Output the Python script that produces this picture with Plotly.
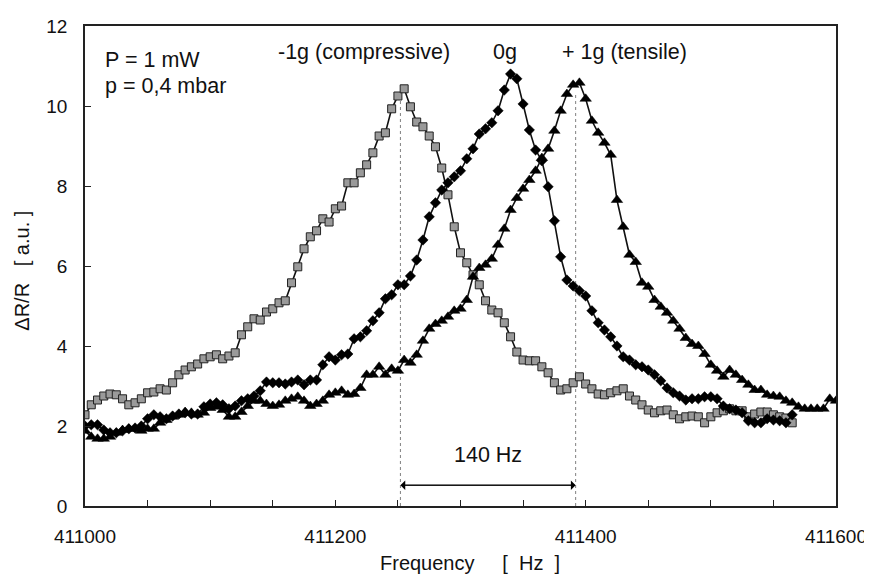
import plotly.graph_objects as go

# ---------------- data ----------------
freq = [411000, 411005, 411010, 411015, 411020, 411025, 411030, 411035, 411040, 411045,
        411050, 411055, 411060, 411065, 411070, 411075, 411080, 411085, 411090, 411095,
        411100, 411105, 411110, 411115, 411120, 411125, 411130, 411135, 411140, 411145,
        411150, 411155, 411160, 411165, 411170, 411175, 411180, 411185, 411190, 411195,
        411200, 411205, 411210, 411215, 411220, 411225, 411230, 411235, 411240, 411245,
        411250, 411255, 411260, 411265, 411270, 411275, 411280, 411285, 411290, 411295,
        411300, 411305, 411310, 411315, 411320, 411325, 411330, 411335, 411340, 411345,
        411350, 411355, 411360, 411365, 411370, 411375, 411380, 411385, 411390, 411395,
        411400, 411405, 411410, 411415, 411420, 411425, 411430, 411435, 411440, 411445,
        411450, 411455, 411460, 411465, 411470, 411475, 411480, 411485, 411490, 411495,
        411500, 411505, 411510, 411515, 411520, 411525, 411530, 411535, 411540, 411545,
        411550, 411555, 411560, 411565, 411570, 411575, 411580, 411585, 411590, 411595,
        411600]

compressive = [2.28, 2.53, 2.65, 2.75, 2.80, 2.78, 2.68, 2.53, 2.58, 2.68,
               2.83, 2.85, 2.93, 2.90, 3.08, 3.28, 3.40, 3.48, 3.55, 3.68,
               3.73, 3.78, 3.68, 3.75, 3.83, 4.28, 4.48, 4.68, 4.65, 4.85,
               4.93, 5.08, 5.13, 5.58, 5.98, 6.43, 6.73, 6.88, 7.18, 7.10,
               7.43, 7.50, 8.08, 8.08, 8.33, 8.53, 8.83, 9.25, 9.33, 9.93,
               10.25, 10.43, 9.98, 9.60, 9.48, 9.25, 8.98, 8.45, 7.78, 6.98,
               6.33, 6.08, 5.78, 5.53, 5.13, 4.90, 4.83, 4.58, 4.23, 3.85,
               3.65, 3.63, 3.63, 3.48, 3.33, 3.08, 2.90, 2.93, 3.08, 3.23,
               3.05, 2.93, 2.80, 2.78, 2.83, 2.88, 2.93, 2.75, 2.65, 2.53,
               2.40, 2.33, 2.38, 2.40, 2.28, 2.18, 2.23, 2.25, 2.23, 2.08,
               2.23, 2.33, 2.38, 2.43, 2.38, 2.38, 2.23, 2.30, 2.35, 2.35,
               2.28, 2.23, 2.20, 2.08]

zero_g = [2.00, 2.03, 2.03, 1.90, 1.83, 1.83, 1.88, 1.93, 1.95, 2.00,
          2.18, 2.28, 2.23, 2.18, 2.25, 2.30, 2.33, 2.30, 2.30, 2.48,
          2.55, 2.58, 2.53, 2.43, 2.50, 2.63, 2.68, 2.75, 2.88, 3.10,
          3.08, 3.08, 3.05, 3.10, 3.15, 3.03, 3.15, 3.15, 3.53, 3.73,
          3.65, 3.78, 3.80, 4.18, 4.23, 4.38, 4.63, 4.83, 5.18, 5.28,
          5.53, 5.53, 5.75, 6.15, 6.65, 7.23, 7.58, 7.90, 8.08, 8.23,
          8.38, 8.68, 8.93, 9.30, 9.43, 9.58, 9.88, 10.40, 10.80, 10.68,
          10.05, 9.40, 8.90, 8.63, 7.98, 7.13, 6.23, 5.65, 5.50, 5.38,
          5.25, 4.88, 4.58, 4.40, 4.23, 4.00, 3.73, 3.65, 3.53, 3.48,
          3.40, 3.28, 3.13, 2.95, 2.83, 2.75, 2.65, 2.68, 2.68, 2.73,
          2.73, 2.68, 2.50, 2.43, 2.40, 2.33, 2.13, 2.08, 2.08, 2.18,
          2.15, 2.13, 2.08, 2.28]

tensile = [1.88, 1.73, 1.68, 1.68, 1.73, 1.83, 1.90, 1.93, 1.93, 1.88,
           1.93, 1.93, 2.08, 2.15, 2.23, 2.28, 2.35, 2.33, 2.28, 2.33,
           2.45, 2.48, 2.40, 2.23, 2.23, 2.35, 2.50, 2.63, 2.63, 2.55,
           2.50, 2.53, 2.63, 2.68, 2.73, 2.63, 2.50, 2.55, 2.63, 2.78,
           2.83, 2.88, 2.78, 2.80, 2.95, 3.28, 3.28, 3.48, 3.28, 3.43,
           3.38, 3.65, 3.58, 3.78, 4.13, 4.43, 4.55, 4.63, 4.73, 4.88,
           4.93, 5.15, 5.73, 5.95, 6.03, 6.18, 6.53, 6.93, 7.40, 7.70,
           7.93, 8.15, 8.38, 8.70, 8.93, 9.38, 9.88, 10.30, 10.53, 10.58,
           10.18, 9.63, 9.33, 9.08, 8.78, 7.65, 6.98, 6.28, 6.10, 5.58,
           5.48, 5.15, 4.98, 4.83, 4.63, 4.43, 4.20, 4.05, 4.00, 3.80,
           3.53, 3.38, 3.23, 3.40, 3.28, 3.15, 3.03, 2.90, 2.90, 2.78,
           2.75, 2.73, 2.63, 2.58, 2.48, 2.43, 2.43, 2.43, 2.43, 2.68,
           2.63]

# resonance markers (dotted vertical lines) and the 140 Hz shift
peak_freqs = [411252, 411392]
peak_tops = [10.2, 10.35]
shift_label = "140 Hz"
shift_y = 0.52

x_ticks = [411000, 411200, 411400, 411600]
y_ticks = [0, 2, 4, 6, 8, 10, 12]

FONT = "Liberation Sans, Arial, sans-serif"
FS_TEXT = 21.5
FS_TICK = 19
FS_TITLE = 20
INK = "#111111"
NB = "\u00a0"

fig = go.Figure()

# dotted vertical lines
for f, top in zip(peak_freqs, peak_tops):
    fig.add_trace(go.Scatter(x=[f, f], y=[0, top], mode="lines",
                             line=dict(color="#808080", width=1, dash="dot"),
                             hoverinfo="skip", showlegend=False))

fig.add_trace(go.Scatter(
    x=freq[:len(compressive)], y=compressive, mode="lines+markers",
    name="-1g (compressive)",
    line=dict(color=INK, width=1.6),
    marker=dict(symbol="square", size=8, color="#9a9a9a",
                line=dict(color="#222222", width=1)),
    showlegend=False))

fig.add_trace(go.Scatter(
    x=freq[:len(zero_g)], y=zero_g, mode="lines+markers",
    name="0g",
    line=dict(color=INK, width=1.6),
    marker=dict(symbol="diamond", size=8, color="#000000",
                line=dict(color="#000000", width=0.5)),
    showlegend=False))

fig.add_trace(go.Scatter(
    x=freq[:len(tensile)], y=tensile, mode="lines+markers",
    name="+ 1g (tensile)",
    line=dict(color=INK, width=1.6),
    marker=dict(symbol="triangle-up", size=10, color="#000000",
                line=dict(color="#000000", width=0.5)),
    showlegend=False))

txt = dict(size=FS_TEXT, color=INK, family=FONT)
annotations = [
    dict(x=peak_freqs[1], y=shift_y, ax=peak_freqs[0], ay=shift_y,
         xref="x", yref="y", axref="x", ayref="y", text="",
         showarrow=True, arrowhead=1, arrowsize=1.6, arrowwidth=1, arrowcolor="#000000"),
    dict(x=peak_freqs[0], y=shift_y, ax=peak_freqs[1], ay=shift_y,
         xref="x", yref="y", axref="x", ayref="y", text="",
         showarrow=True, arrowhead=1, arrowsize=1.6, arrowwidth=1, arrowcolor="#000000"),
    dict(x=(peak_freqs[0] + peak_freqs[1]) / 2, y=1.28, xref="x", yref="y",
         text=shift_label, showarrow=False, font=txt),
    dict(x=0.024, y=0.929, xref="paper", yref="paper", xanchor="left", yanchor="middle",
         text="P = 1 mW", showarrow=False, font=txt),
    dict(x=0.024, y=0.875, xref="paper", yref="paper", xanchor="left", yanchor="middle",
         text="p = 0,4 mbar", showarrow=False, font=txt),
    dict(x=0.3715, y=0.946, xref="paper", yref="paper", xanchor="center", yanchor="middle",
         text="-1g (compressive)", showarrow=False, font=txt),
    dict(x=0.559, y=0.946, xref="paper", yref="paper", xanchor="center", yanchor="middle",
         text="0g", showarrow=False, font=txt),
    dict(x=0.719, y=0.946, xref="paper", yref="paper", xanchor="center", yanchor="middle",
         text="+ 1g (tensile)", showarrow=False, font=txt),
    # axis titles
    dict(x=0.513, y=-0.119, xref="paper", yref="paper", xanchor="center", yanchor="middle",
         text="Frequency" + NB * 5 + "[" + NB * 2 + "Hz" + NB * 2 + "]", showarrow=False,
         font=dict(size=FS_TITLE, color=INK, family=FONT)),
    dict(x=-0.084, y=0.49, xref="paper", yref="paper", xanchor="center", yanchor="middle",
         text="\u0394R/R" + NB * 3 + "[" + NB + "a.u." + NB + "]", showarrow=False, textangle=-90,
         font=dict(size=FS_TITLE, color=INK, family=FONT)),
]

# the page body adds an 8 px offset, so the figure is 8 px smaller and margins shifted
fig.update_layout(
    width=864, height=571,
    margin=dict(l=77, r=36, t=18, b=73),
    paper_bgcolor="white", plot_bgcolor="white",
    font=dict(family=FONT, size=FS_TICK, color=INK),
    annotations=annotations,
    showlegend=False,
)

fig.update_xaxes(
    range=[411000, 411600], tickvals=x_ticks, ticktext=[str(v) for v in x_ticks],
    ticks="inside", ticklen=6, tickwidth=1, tickcolor="#222222",
    minor=dict(dtick=50, ticks="inside", ticklen=6, tickwidth=1, tickcolor="#222222", showgrid=False),
    showline=True, linecolor="#222222", linewidth=1.5, mirror=True,
    showgrid=False, zeroline=False, automargin=False,
    ticklabelstandoff=12, tickfont=dict(size=FS_TICK),
)
fig.update_yaxes(
    range=[0, 12], tickvals=y_ticks,
    ticks="inside", ticklen=6, tickwidth=1, tickcolor="#222222",
    showline=True, linecolor="#222222", linewidth=1.5, mirror=True,
    showgrid=False, zeroline=False, automargin=False,
    ticklabelstandoff=12, tickfont=dict(size=FS_TICK),
)

fig.write_html("out.html")
